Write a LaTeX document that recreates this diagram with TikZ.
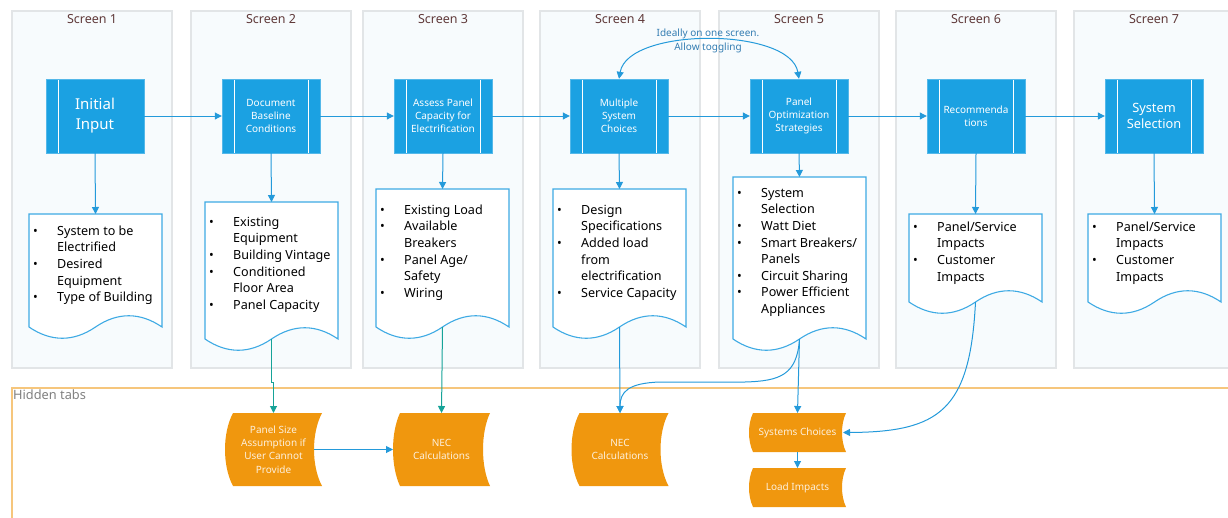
\documentclass[tikz,border=0pt]{standalone}
\usepackage{fontspec}
\setmainfont{Noto Sans}
\usepackage{tikz}
\usetikzlibrary{arrows.meta,calc,positioning}

\definecolor{boxblue}{RGB}{27,161,226}
\definecolor{lineblue}{RGB}{36,154,218}
\definecolor{docblue}{RGB}{62,170,228}
\definecolor{tealline}{RGB}{22,163,152}
\definecolor{taborange}{RGB}{240,151,14}
\definecolor{tabedge}{RGB}{246,198,124}
\definecolor{screenfill}{RGB}{247,251,253}
\definecolor{screenedge}{RGB}{226,229,231}
\definecolor{screentitle}{RGB}{96,58,58}
\definecolor{notegray}{RGB}{128,128,128}
\definecolor{noteblue}{RGB}{52,125,178}
\definecolor{cream}{RGB}{253,240,220}

\pgfdeclarelayer{back}
\pgfdeclarelayer{bg}
\pgfsetlayers{back,bg,main}

% document outline (wavy bottom) round an empty node
\newcommand{\docoutline}[1]{%
  \filldraw[fill=white, draw=docblue, line width=1.1pt]
    (#1.north west) -- (#1.north east) -- (#1.south east)
    .. controls ($(#1.south east)!0.33!(#1.south)+(0,-15)$) and ($(#1.south east)!0.67!(#1.south)+(0,-15)$) .. (#1.south)
    .. controls ($(#1.south)!0.33!(#1.south west)+(0,15)$) and ($(#1.south)!0.67!(#1.south west)+(0,15)$) .. (#1.south west)
    -- cycle;}

% stored data outline round an empty node: name, bulge, curve reach
\newcommand{\taboutline}[3]{%
  \fill[taborange]
    ([xshift=#2]#1.north west) -- (#1.north east)
    .. controls ([shift={(-4*#2/3,#3)}]#1.north east) and ([shift={(-4*#2/3,-#3)}]#1.south east) .. (#1.south east)
    -- ([xshift=#2]#1.south west)
    .. controls ([shift={(-#2/3,-#3)}]#1.south west) and ([shift={(-#2/3,#3)}]#1.north west) .. ([xshift=#2]#1.north west)
    -- cycle;}

\tikzset{
  procbox/.style={fill=boxblue, draw=boxblue!75!white, minimum width=98, minimum height=74,
    inner sep=1, text=white, align=center, font=\fontsize{10}{13}\selectfont},
  leftbar/.style={path picture={
    \draw[white, line width=0.9pt] ([xshift=12]path picture bounding box.north west) -- ([xshift=12]path picture bounding box.south west);}},
  bothbars/.style={path picture={
    \draw[white, line width=0.9pt] ([xshift=12]path picture bounding box.north west) -- ([xshift=12]path picture bounding box.south west)
      ([xshift=-12]path picture bounding box.north east) -- ([xshift=-12]path picture bounding box.south east);}},
  docbox/.style={minimum width=133, inner sep=0, outer sep=0, anchor=north west},
  doctext/.style={inner sep=0, anchor=north west, font=\fontsize{12.6}{16.6}\selectfont},
  tabbox/.style={minimum width=97, inner sep=0, outer sep=0, text=cream, align=center,
    font=\fontsize{10}{13.2}\selectfont},
  flow/.style={draw=lineblue, line width=1pt, -{Triangle[length=7pt,width=7pt]}},
  tealflow/.style={flow, draw=tealline},
  screen/.style={fill=screenfill, draw=screenedge, line width=1.4pt},
}

\begin{document}
\begin{tikzpicture}[x=1pt, y=-1pt]
  \useasboundingbox (0,0) rectangle (1228,517);

  % the screens and the hidden tabs area
  \begin{pgfonlayer}{back}
    \foreach \xl/\n in {12/1,191/2,363/3,540/4,719/5,896/6,1074/7} {
      \filldraw[screen] (\xl,11) rectangle ++(160,357);
      \node[text=screentitle, font=\fontsize{12.5}{15}\selectfont] (s\n) at (\xl+80,19) {Screen \n};
    }
    \draw[tabedge, line width=1.4pt] (12,530) -- (12,388) -- (1240,388);
  \end{pgfonlayer}
  \node[anchor=north west, inner sep=1, text=notegray, font=\fontsize{12.8}{15}\selectfont] (hidden) at (12,389) {Hidden tabs};

  % the process boxes
  \node[procbox, leftbar, font=\fontsize{15}{20}\selectfont] (b1) at (95,116) {Initial\\Input};
  \node[procbox, bothbars] (b2) at (271,116) {Document\\Baseline\\Conditions};
  \node[procbox, bothbars] (b3) at (443,116) {Assess Panel\\Capacity for\\Electrification};
  \node[procbox, bothbars] (b4) at (619,116) {Multiple\\System\\Choices};
  \node[procbox, bothbars] (b5) at (799,116) {Panel\\Optimization\\Strategies};
  \node[procbox, bothbars] (b6) at (976,116) {Recommenda\\tions};
  \node[procbox, bothbars, font=\fontsize{12.8}{16.5}\selectfont] (b7) at (1154,116) {System\\Selection};

  % the documents under each box
  \node[docbox, minimum height=113] (d1) at (29,214) {};
  \node[docbox, minimum height=137] (d2) at (205,202) {};
  \node[docbox, minimum height=138] (d3) at (376,189) {};
  \node[docbox, minimum height=138] (d4) at (553,189) {};
  \node[docbox, minimum height=162] (d5) at (733,177) {};
  \node[docbox, minimum height=88] (d6) at (909,214) {};
  \node[docbox, minimum height=88] (d7) at (1088,214) {};

  \node[doctext] (t1) at ([shift={(4,9.5)}]d1.north west) {\begin{tabular}{@{}p{24pt}@{}l@{}}
    \textbullet & System to be\\ & Electrified\\ \textbullet & Desired\\ & Equipment\\ \textbullet & Type of Building
  \end{tabular}};
  \node[doctext] (t2) at ([shift={(4,12.5)}]d2.north west) {\begin{tabular}{@{}p{24pt}@{}l@{}}
    \textbullet & Existing\\ & Equipment\\ \textbullet & Building Vintage\\ \textbullet & Conditioned\\ & Floor Area\\ \textbullet & Panel Capacity
  \end{tabular}};
  \node[doctext] (t3) at ([shift={(4,13.5)}]d3.north west) {\begin{tabular}{@{}p{24pt}@{}l@{}}
    \textbullet & Existing Load\\ \textbullet & Available\\ & Breakers\\ \textbullet & Panel Age/\\ & Safety\\ \textbullet & Wiring
  \end{tabular}};
  \node[doctext] (t4) at ([shift={(4,13.5)}]d4.north west) {\begin{tabular}{@{}p{24pt}@{}l@{}}
    \textbullet & Design\\ & Specifications\\ \textbullet & Added load\\ & from\\ & electrification\\ \textbullet & Service Capacity
  \end{tabular}};
  \node[doctext] (t5) at ([shift={(4,8.5)}]d5.north west) {\begin{tabular}{@{}p{24pt}@{}l@{}}
    \textbullet & System\\ & Selection\\ \textbullet & Watt Diet\\ \textbullet & Smart Breakers/\\ & Panels\\
    \textbullet & Circuit Sharing\\ \textbullet & Power Efficient\\ & Appliances
  \end{tabular}};
  \node[doctext] (t6) at ([shift={(4,5.5)}]d6.north west) {\begin{tabular}{@{}p{24pt}@{}l@{}}
    \textbullet & Panel/Service\\ & Impacts\\ \textbullet & Customer\\ & Impacts
  \end{tabular}};
  \node[doctext] (t7) at ([shift={(4,5.5)}]d7.north west) {\begin{tabular}{@{}p{24pt}@{}l@{}}
    \textbullet & Panel/Service\\ & Impacts\\ \textbullet & Customer\\ & Impacts
  \end{tabular}};

  % the hidden tabs
  \node[tabbox, minimum height=73] (ps) at (273.5,449.5) {Panel Size\\Assumption if\\User Cannot\\Provide};
  \node[tabbox, minimum height=73] (nec1) at (441.5,449.5) {NEC\\Calculations};
  \node[tabbox, minimum height=73] (nec2) at (620,449.5) {NEC\\Calculations};
  \node[tabbox, minimum height=39] (sc) at (797.5,432.5) {Systems Choices};
  \node[tabbox, minimum height=39] (li) at (797.5,487.5) {Load Impacts};

  \begin{pgfonlayer}{bg}
    \docoutline{d1} \docoutline{d2} \docoutline{d3} \docoutline{d4}
    \docoutline{d5} \docoutline{d6} \docoutline{d7}
    \taboutline{ps}{8}{20} \taboutline{nec1}{7}{20} \taboutline{nec2}{8}{20}
    \taboutline{sc}{4}{11} \taboutline{li}{4}{11}
  \end{pgfonlayer}

  % the note on top
  \node[text=noteblue, align=center, font=\fontsize{10}{13.5}\selectfont] (toggle) at (708,41) {Ideally on one screen.\\Allow toggling};

  % draw the arrows
  \draw[flow] (b1) -- (b2);
  \draw[flow] (b2) -- (b3);
  \draw[flow] (b3) -- (b4);
  \draw[flow] (b4) -- (b5);
  \draw[flow] (b5) -- (b6);
  \draw[flow] (b6) -- (b7);
  \draw[flow, {Triangle[length=7pt,width=7pt]}-{Triangle[length=7pt,width=7pt]}]
    (b4.north) .. controls (628,27) and (790,27) .. (b5.north);

  \draw[flow] (b1.south) -- (d1.north);
  \draw[flow] (b2.south) -- (d2.north);
  \draw[flow] (b3.south) -- (d3.north);
  \draw[flow] (b4.south) -- (d4.north);
  \draw[flow] (b5.south) -- (d5.north);
  \draw[flow] (b6.south) -- (d6.north);
  \draw[flow] (b7.south) -- (d7.north);

  \draw[tealflow] (d2.south) -- ++(0,43) -| (ps.north);
  \draw[tealflow] (d3.south) -- (nec1.north);
  \draw[flow] (d4.south) -- (nec2.north);
  \draw[flow] (d5.south) -- (sc.north);
  \draw[flow] (d5.south) .. controls (797,375) and (780,381) .. (745,382) -- (660,382)
    .. controls (628,383) and (620,392) .. (nec2.north);
  \draw[flow] (d6.south) .. controls (970,410) and (940,432) .. ([xshift=-3]sc.east);
  \draw[flow] (sc) -- (li);
  \draw[flow] ([xshift=-8]ps.east) -- (nec1.west);

\end{tikzpicture}
\end{document}
